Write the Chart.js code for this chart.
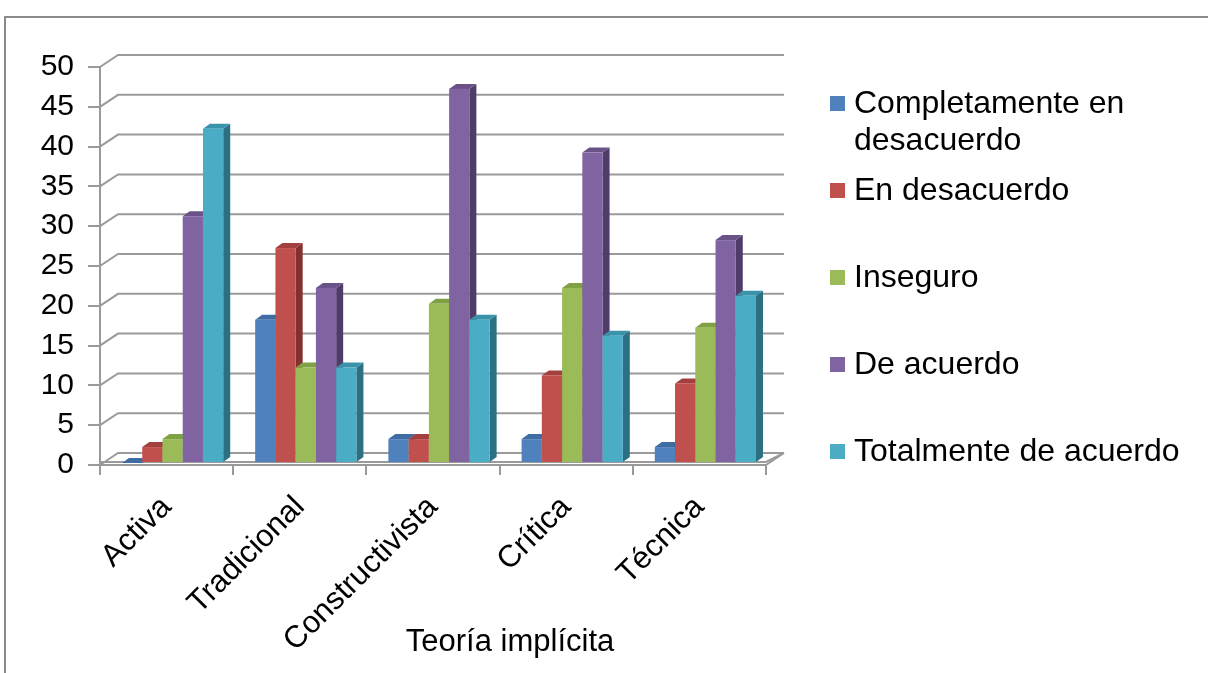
<!DOCTYPE html>
<html>
<head>
<meta charset="utf-8">
<script src="https://cdn.jsdelivr.net/npm/chart.js@4.4.1/dist/chart.umd.min.js"></script>
<style>
  html, body { margin: 0; padding: 0; background: #fff; }
  #wrap { position: relative; width: 1208px; height: 673px; overflow: hidden; font-family: "Liberation Sans", Arial, sans-serif; }
  #frame { position: absolute; left: 4px; top: 16px; width: 1220px; height: 700px; border-left: 2px solid #8a8a8a; border-top: 2px solid #8a8a8a; box-sizing: border-box; }
  canvas { position: absolute; left: 0; top: 0; }
  #legend { position: absolute; left: 830px; top: 84px; }
  .item { position: absolute; left: 0; width: 376px; }
  .sw { position: absolute; left: 0; top: 12px; width: 15px; height: 15px; }
  .lt { position: absolute; left: 24px; top: 0; font-size: 32px; line-height: 37px; color: #000; white-space: nowrap; }
  #xtitle { position: absolute; left: 360px; width: 300px; text-align: center; top: 623px; font-size: 31px; line-height: 36px; color: #000; white-space: nowrap; }
</style>
</head>
<body>
<div id="wrap">
  <div id="frame"></div>
  <canvas id="c" width="1208" height="673"></canvas>
  <div id="legend"></div>
  <div id="xtitle"></div>
</div>
<script>
// ---- data ----
const categories = ["Activa", "Tradicional", "Constructivista", "Crítica", "Técnica"];
const seriesNames = ["Completamente en desacuerdo", "En desacuerdo", "Inseguro", "De acuerdo", "Totalmente de acuerdo"];
const legendLines = [["Completamente en", "desacuerdo"], ["En desacuerdo"], ["Inseguro"], ["De acuerdo"], ["Totalmente de acuerdo"]];
const completamenteEnDesacuerdo = [0, 18, 3, 3, 2];
const enDesacuerdo = [2, 27, 3, 11, 10];
const inseguro = [3, 12, 20, 22, 17];
const deAcuerdo = [31, 22, 47, 39, 28];
const totalmenteDeAcuerdo = [42, 12, 18, 16, 21];
const yTicks = [0, 5, 10, 15, 20, 25, 30, 35, 40, 45, 50];
const axisTitle = "Teoría implícita";

const seriesValues = [completamenteEnDesacuerdo, enDesacuerdo, inseguro, deAcuerdo, totalmenteDeAcuerdo];
const frontColors = ["#4F81BD", "#C0504D", "#9BBB59", "#8064A2", "#4BACC6"];
const topColors   = ["#3F6CA3", "#A3403D", "#80A044", "#6A5289", "#3A93AB"];
const sideColors  = ["#2F5585", "#83302E", "#677F36", "#4F3C68", "#2C7083"];

document.getElementById('xtitle').textContent = axisTitle;

// ---- legend (HTML) ----
const legendEl = document.getElementById('legend');
legendLines.forEach((lines, i) => {
  const it = document.createElement('div');
  it.className = 'item';
  it.style.top = (i * 87) + 'px';
  const sw = document.createElement('div');
  sw.className = 'sw';
  sw.style.background = frontColors[i];
  const t = document.createElement('div');
  t.className = 'lt';
  t.innerHTML = lines.join('<br>');
  it.appendChild(sw); it.appendChild(t);
  legendEl.appendChild(it);
});

const DX = 7, DY = 5;      // bar depth
const WX = 18, WY = 12;    // wall depth
const BX = 6, BY = -2;     // bars sit mid-depth on the floor
const gridColor = '#9a9a9a';

const wallPlugin = {
  id: 'wall',
  beforeDatasetsDraw(chart) {
    const ctx = chart.ctx;
    const y = chart.scales.y;
    const a = chart.chartArea;
    ctx.save();
    ctx.strokeStyle = gridColor;
    ctx.lineWidth = 2;
    yTicks.forEach(v => {
      const py = y.getPixelForValue(v);
      ctx.beginPath();
      ctx.moveTo(a.left, py);
      ctx.lineTo(a.left + WX, py - WY);
      ctx.lineTo(a.right + WX, py - WY);
      ctx.stroke();
    });
    // floor
    const p0 = y.getPixelForValue(0);
    ctx.beginPath();
    ctx.moveTo(a.left, p0 - 3);
    ctx.lineTo(a.right, p0 - 3);
    ctx.lineTo(a.right + WX, p0 - WY);
    ctx.moveTo(a.right, p0);
    ctx.lineTo(a.right + WX, p0 - WY);
    ctx.stroke();
    ctx.restore();
  },
  afterDatasetsDraw(chart) {
    const ctx = chart.ctx;
    const n = categories.length;
    ctx.save();
    for (let c = 0; c < n; c++) {
      for (let d = 0; d < seriesValues.length; d++) {
        const el = chart.getDatasetMeta(d).data[c];
        const L = el.x - el.width / 2 + BX, R = el.x + el.width / 2 + BX;
        const T = el.y + BY, B = el.base + BY;
        // side
        ctx.fillStyle = sideColors[d];
        ctx.beginPath();
        ctx.moveTo(R, T); ctx.lineTo(R + DX, T - DY); ctx.lineTo(R + DX, B - DY); ctx.lineTo(R, B);
        ctx.closePath(); ctx.fill();
        // top
        ctx.fillStyle = topColors[d];
        ctx.beginPath();
        ctx.moveTo(L, T); ctx.lineTo(L + DX, T - DY); ctx.lineTo(R + DX, T - DY); ctx.lineTo(R, T);
        ctx.closePath(); ctx.fill();
        // front
        ctx.fillStyle = frontColors[d];
        ctx.fillRect(L, T, R - L, B - T);
      }
    }
    ctx.restore();
  }
};

const fam = '"Liberation Sans", Arial, sans-serif';

new Chart(document.getElementById('c'), {
  type: 'bar',
  data: {
    labels: categories,
    datasets: seriesValues.map((vals, i) => ({
      label: seriesNames[i],
      data: vals,
      backgroundColor: 'rgba(0,0,0,0)',
      borderWidth: 0,
      categoryPercentage: 0.76,
      barPercentage: 1.0
    }))
  },
  options: {
    responsive: false,
    animation: false,
    events: [],
    layout: { padding: { left: 0, top: 67, right: 442, bottom: 0 } },
    plugins: { legend: { display: false }, tooltip: { enabled: false } },
    scales: {
      y: {
        min: 0, max: 50,
        afterFit(s) { s.width = 100; },
        afterBuildTicks(s) { s.ticks = yTicks.map(v => ({ value: v })); },
        ticks: { color: '#000', font: { family: fam, size: 30 }, padding: 14, autoSkip: false },
        grid: { drawOnChartArea: false, drawTicks: true, tickLength: 12, color: gridColor, lineWidth: 2 },
        border: { display: true, color: gridColor, width: 2 }
      },
      x: {
        afterFit(s) { s.height = 208; },
        ticks: { color: '#000', font: { family: fam, size: 31 }, minRotation: 45, maxRotation: 45, padding: 14, labelOffset: 0, autoSkip: false },
        grid: { drawOnChartArea: false, drawTicks: true, tickLength: 10, color: gridColor, lineWidth: 2, offset: true },
        border: { display: true, color: gridColor, width: 2 }
      }
    }
  },
  plugins: [wallPlugin]
});
</script>
</body>
</html>
